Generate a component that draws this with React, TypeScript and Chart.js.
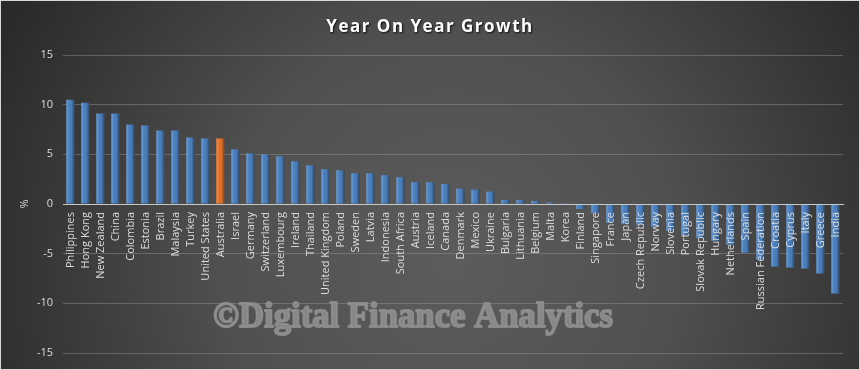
import React, { useEffect, useRef } from "react";
import { Chart, registerables } from "chart.js";

Chart.register(...registerables);

const countries = [
  "Philippines", "Hong Kong", "New Zealand", "China", "Colombia", "Estonia", "Brazil", "Malaysia",
  "Turkey", "United States", "Australia", "Israel", "Germany", "Switzerland", "Luxembourg", "Ireland",
  "Thailand", "United Kingdom", "Poland", "Sweden", "Latvia", "Indonesia", "South Africa", "Austria",
  "Iceland", "Canada", "Denmark", "Mexico", "Ukraine", "Bulgaria", "Lithuania", "Belgium", "Malta",
  "Korea", "Finland", "Singapore", "France", "Japan", "Czech Republic", "Norway", "Slovenia",
  "Portugal", "Slovak Republic", "Hungary", "Netherlands", "Spain", "Russian Federation", "Croatia",
  "Cyprus", "Italy", "Greece", "India",
];

const growth = [
  10.5, 10.2, 9.1, 9.1, 8.0, 7.9, 7.4, 7.4,
  6.7, 6.6, 6.6, 5.5, 5.1, 5.0, 4.8, 4.3,
  3.9, 3.5, 3.4, 3.1, 3.1, 2.9, 2.7, 2.2,
  2.2, 2.0, 1.55, 1.45, 1.25, 0.4, 0.4, 0.3, 0.15,
  0.08, -0.5, -0.9, -1.9, -2.0, -2.1, -2.3, -2.7,
  -3.1, -3.4, -3.7, -4.1, -4.9, -5.6, -6.3,
  -6.4, -6.5, -7.0, -9.0,
];

const highlighted = ["Australia"];
const yTicks = [-15, -10, -5, 0, 5, 10, 15];

const titleText = "Year On Year Growth";
const watermarkText = "\u00A9Digital Finance Analytics";

const BLUE = "#4a7ebb";
const ORANGE = "#e0702a";

const backgroundPlugin = {
  id: "bgPlugin",
  beforeDraw(chart: any) {
    const { ctx, width, height } = chart;
    ctx.save();
    const g = ctx.createRadialGradient(450, 260, 0, 450, 260, 500);
    g.addColorStop(0, "#5c5c5c");
    g.addColorStop(0.45, "#505050");
    g.addColorStop(1, "#2a2a2a");
    ctx.fillStyle = g;
    ctx.fillRect(0, 0, width, height);
    ctx.restore();
  },
  afterDatasetsDraw(chart: any) {
    const { ctx } = chart;
    const meta = chart.getDatasetMeta(0);
    ctx.save();
    meta.data.forEach((el: any) => {
      const { x, y, base, width } = el.getProps(["x", "y", "base", "width"], true);
      const left = x - width / 2;
      const top = Math.min(y, base);
      const h = Math.abs(base - y);
      const g = ctx.createLinearGradient(left, 0, left + width, 0);
      g.addColorStop(0, "rgba(255,255,255,0.28)");
      g.addColorStop(0.25, "rgba(255,255,255,0.05)");
      g.addColorStop(0.6, "rgba(0,0,0,0)");
      g.addColorStop(1, "rgba(0,0,0,0.45)");
      ctx.fillStyle = g;
      ctx.fillRect(left, top, width, h);
    });
    ctx.restore();
  },
  afterDraw(chart: any) {
    const { ctx, width, height } = chart;
    ctx.save();
    // watermark
    ctx.font = "bold 36px 'Liberation Serif'";
    const w = ctx.measureText(watermarkText).width;
    ctx.translate(213, 327);
    ctx.scale(400 / w, 1);
    ctx.fillStyle = "rgba(145,145,145,0.85)";
    ctx.strokeStyle = "rgba(145,145,145,0.85)";
    ctx.lineWidth = 2;
    ctx.lineJoin = "round";
    ctx.textBaseline = "alphabetic";
    ctx.fillText(watermarkText, 0, 0);
    ctx.strokeText(watermarkText, 0, 0);
    ctx.restore();

    // title
    ctx.save();
    ctx.font = "bold 17px 'Open Sans'";
    ctx.textAlign = "center";
    ctx.textBaseline = "middle";
    ctx.shadowColor = "rgba(0,0,0,0.8)";
    ctx.shadowOffsetX = 1;
    ctx.shadowOffsetY = 1;
    ctx.shadowBlur = 2;
    ctx.fillStyle = "#ffffff";
    (ctx as any).letterSpacing = "1.5px";
    ctx.fillText(titleText, 430, 27);
    ctx.restore();

    // frame
    ctx.save();
    ctx.strokeStyle = "#d8d8d8";
    ctx.lineWidth = 1;
    ctx.strokeRect(0.5, 0.5, width - 1, height - 1);
    ctx.restore();
  },
};

export default function App() {
  const ref = useRef<HTMLCanvasElement | null>(null);

  useEffect(() => {
    document.body.style.margin = "0";
    if (!ref.current) return;
    const chart = new Chart(ref.current, {
      type: "bar",
      data: {
        labels: countries,
        datasets: [
          {
            data: growth,
            backgroundColor: countries.map((c) => (highlighted.includes(c) ? ORANGE : BLUE)),
            borderWidth: 0,
            barPercentage: 0.55,
            categoryPercentage: 1,
          },
        ],
      },
      options: {
        responsive: false,
        animation: false,
        layout: { padding: { left: 8, right: 17, top: 55, bottom: 17 } },
        plugins: {
          legend: { display: false },
          tooltip: { enabled: false },
          title: { display: false },
        },
        scales: {
          x: {
            position: { y: 0 } as any,
            grid: { display: false, drawTicks: false },
            border: { display: true, color: "#c8c8c8", width: 1, z: 1 } as any,
            ticks: {
              z: 1,
              autoSkip: false,
              minRotation: 90,
              maxRotation: 90,
              padding: 8,
              color: "#dcdcdc",
              font: { family: "'Open Sans'", size: 11 },
            } as any,
          },
          y: {
            min: -15,
            max: 15,
            afterBuildTicks: (scale: any) => {
              scale.ticks = yTicks.map((v) => ({ value: v }));
            },
            afterFit: (scale: any) => {
              scale.width = 55;
            },
            grid: { color: "rgba(150,150,150,0.45)", drawTicks: false },
            border: { display: false },
            ticks: {
              padding: 10,
              color: "#dcdcdc",
              font: { family: "'Open Sans'", size: 11 },
            },
            title: {
              display: true,
              text: "%",
              color: "#dcdcdc",
              font: { family: "'Open Sans'", size: 11 },
              padding: { top: 10, bottom: 0 },
            },
          },
        },
      },
      plugins: [backgroundPlugin],
    });
    return () => chart.destroy();
  }, []);

  return <canvas ref={ref} width={860} height={370} style={{ display: "block" }} />;
}
